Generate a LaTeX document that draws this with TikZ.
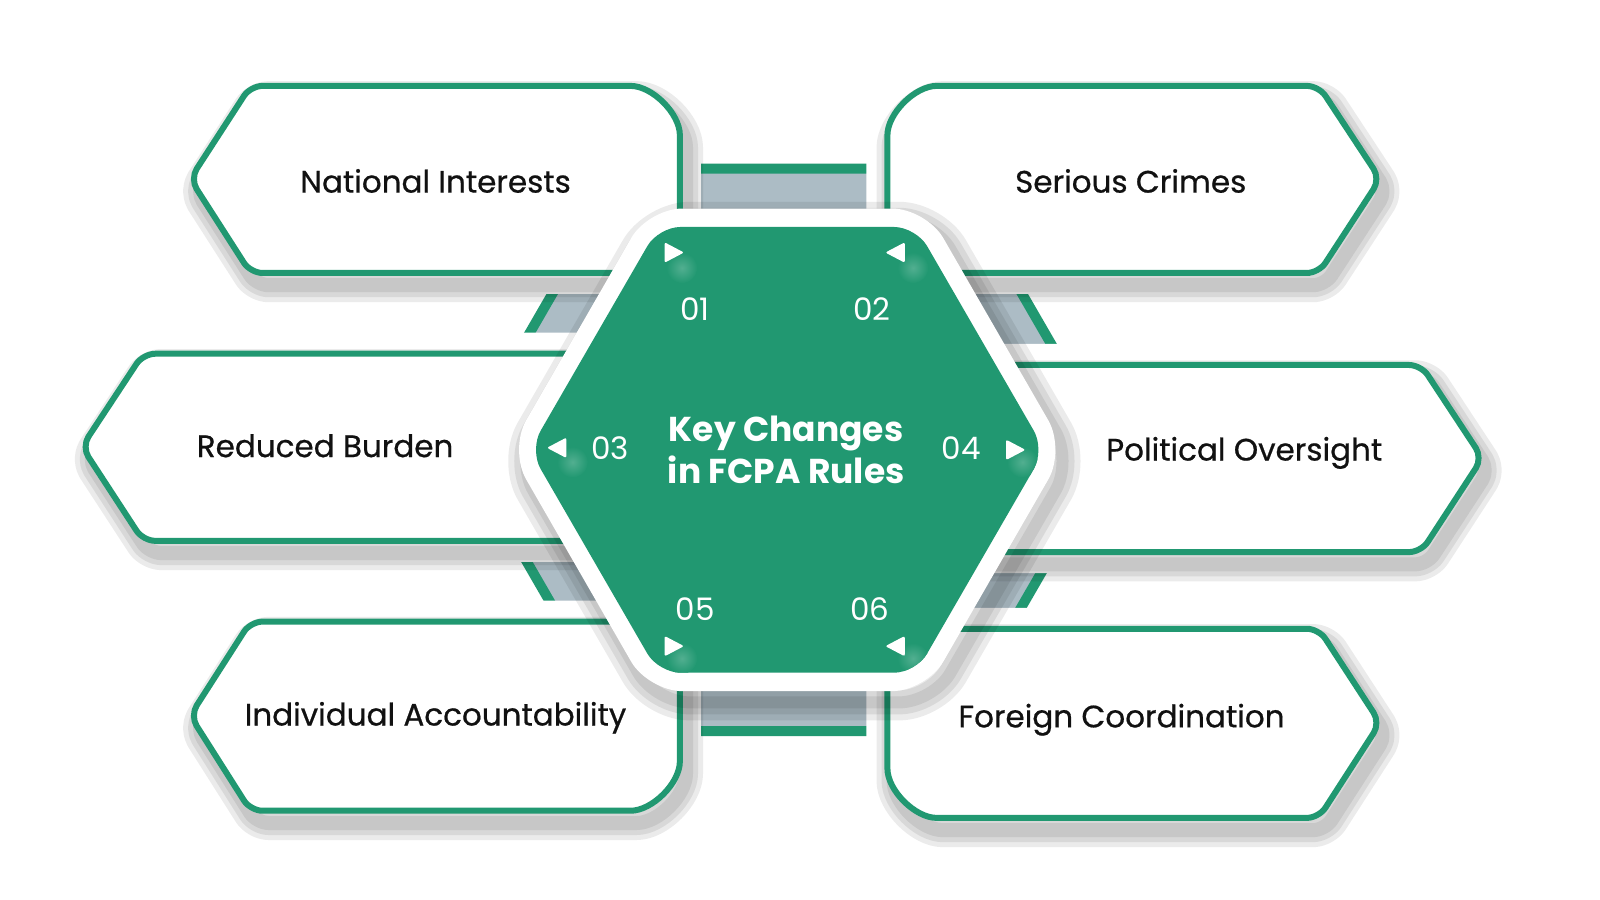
\documentclass[tikz,border=0pt]{standalone}
\usepackage{fontspec}
\setmainfont{Poppins}
\newfontfamily\boxfont{Poppins}[FakeBold=0.6]
\usepackage{tikz}

\definecolor{fcgreen}{RGB}{33,152,113}
\definecolor{fcgray}{RGB}{172,188,197}
\definecolor{fctext}{RGB}{17,17,17}

\tikzset{
  boxline/.style = {draw=fcgreen, fill=white, line width=6pt, rounded corners=12pt},
  boxrim/.style = {draw=white, fill=white, line width=42pt, rounded corners=12pt},
  boxshade/.style = {draw=black, opacity=0.08, rounded corners=12pt},
  boxlabel/.style = {font=\boxfont\fontsize{31}{35}\selectfont, text=fctext},
  numlabel/.style = {font=\fontsize{31}{34}\selectfont, text=white},
  arrowmark/.style = {fill=white, rounded corners=2pt},
  glow/.style = {inner color=fcgreen!78!white, outer color=fcgreen}
}

% outlines of the six boxes
\newcommand{\shapeNI}{(245,84) -- (605,84) .. controls (638,84) and (665,111) .. (665,144) -- (665,267) -- (245,267) -- (186,175) -- cycle}
\newcommand{\shapeSC}{(868,267) -- (868,144) .. controls (868,111) and (895,84) .. (928,84) -- (1290,84) -- (1350,175) -- (1290,267) -- cycle}
\newcommand{\shapeRB}{(140,346) -- (600,346) -- (600,529) -- (140,529) -- (80,437) -- cycle}
\newcommand{\shapePO}{(940,357) -- (1390,357) -- (1450,448) -- (1390,540) -- (940,540) -- cycle}
\newcommand{\shapeIA}{(245,608) -- (665,608) -- (665,733) .. controls (665,766) and (638,793) .. (605,793) -- (245,793) -- (186,700) -- cycle}
\newcommand{\shapeFC}{(868,615) -- (1290,615) -- (1350,707) -- (1290,800) -- (928,800) .. controls (895,800) and (868,773) .. (868,740) -- cycle}
\newcommand{\shapeHex}{(1022,440) -- (896,222) -- (644,222) -- (518,440) -- (644,658) -- (896,658) -- cycle}

\begin{document}
\begin{tikzpicture}[x=1.0224pt, y=-1.0224pt, line join=round]
    \useasboundingbox (0,0) rectangle (1565,880.3);
    \fill[white] (0,0) rectangle (1565,880.3);

    % frame behind the boxes
    \draw[fcgreen, line width=10pt, fill=fcgray] (1088,440) -- (929,165) -- (611,165) -- (452,440) -- (611,715) -- (929,715) -- cycle;

    % rims, shadows and outlines
    \foreach \shp in {\shapeNI,\shapeSC,\shapeRB,\shapePO,\shapeIA,\shapeFC}{
        \draw[boxrim] \shp;
    }
    \foreach \shp in {\shapeNI,\shapeSC,\shapeRB,\shapePO,\shapeIA,\shapeFC}{
        \foreach \w in {34,24,14}{
            \draw[boxshade, line width=\w pt, shift={(6,12)}] \shp;
        }
    }
    \foreach \shp in {\shapeNI,\shapeSC,\shapeRB,\shapePO,\shapeIA,\shapeFC}{
        \draw[boxline] \shp;
    }

    \node (NI) [boxlabel] at (426,177) {National Interests};
    \node (SC) [boxlabel] at (1106,177) {Serious Crimes};
    \node (RB) [boxlabel] at (318,436) {Reduced Burden};
    \node (PO) [boxlabel] at (1217,443) {Political Oversight};
    \node (IA) [boxlabel] at (426,702) {Individual Accountability};
    \node (FC) [boxlabel] at (1097,704) {Foreign Coordination};

    % centre hexagon
    \foreach \w in {36,24,12}{
        \draw[black, opacity=0.08, line width=\w pt, rounded corners=34pt, shift={(7,11)}] (1042,440) -- (906,204) -- (634,204) -- (498,440) -- (634,676) -- (906,676) -- cycle;
    }
    \fill[white, rounded corners=34pt] (1042,440) -- (906,204) -- (634,204) -- (498,440) -- (634,676) -- (906,676) -- cycle;
    \fill[fcgreen, rounded corners=22pt] \shapeHex;

    \begin{scope}
        \clip[rounded corners=22pt] \shapeHex;
        \shade[glow] (667,262) circle (15);
        \shade[glow] (893,262) circle (15);
        \shade[glow] (560,452) circle (15);
        \shade[glow] (1000,452) circle (15);
        \shade[glow] (667,644) circle (15);
        \shade[glow] (893,644) circle (15);
    \end{scope}

    \node (title) [font=\bfseries\fontsize{34.5}{42}\selectfont, text=white, align=center] at (769,440) {Key Changes\\in FCPA Rules};

    \node (n1) [numlabel] at (680,302) {01};
    \node (n2) [numlabel] at (853,302) {02};
    \node (n3) [numlabel] at (597,438) {03};
    \node (n4) [numlabel] at (940,438) {04};
    \node (n5) [numlabel] at (680,596) {05};
    \node (n6) [numlabel] at (851,596) {06};

    \fill[arrowmark] (650,237) -- (669,247) -- (650,257) -- cycle;
    \fill[arrowmark] (885,237) -- (866,247) -- (885,257) -- cycle;
    \fill[arrowmark] (554,428) -- (535,438) -- (554,448) -- cycle;
    \fill[arrowmark] (984,430) -- (1003,440) -- (984,450) -- cycle;
    \fill[arrowmark] (650,622) -- (669,632) -- (650,642) -- cycle;
    \fill[arrowmark] (885,622) -- (866,632) -- (885,642) -- cycle;

\end{tikzpicture}
\end{document}
